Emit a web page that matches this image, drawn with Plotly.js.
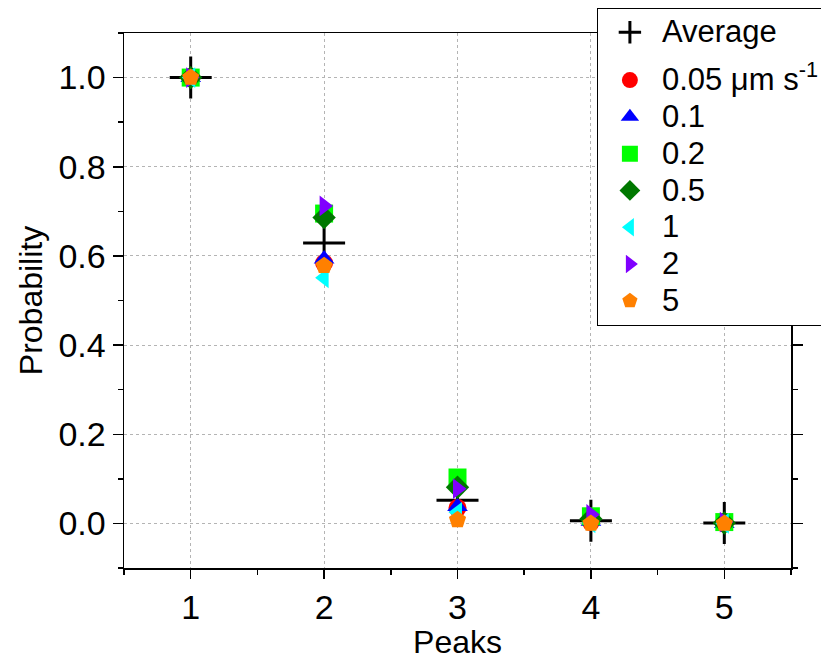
<!DOCTYPE html>
<html>
<head>
<meta charset="utf-8">
<script src="https://cdn.plot.ly/plotly-3.0.1.min.js"></script>
<style>html,body{margin:0;padding:0;background:#fff;}#chart{width:821px;height:660px;}</style>
</head>
<body>
<div id="chart"></div>
<script>
// Data
const peaks = [1, 2, 3, 4, 5];
const average = [1.0, 0.629, 0.052, 0.006, 0.001];
const v005 = [1.0, 0.584, 0.035, 0.003, 0.0];
const v01  = [1.0, 0.593, 0.038, 0.005, 0.0];
const v02  = [1.0, 0.695, 0.103, 0.016, 0.003];
const v05  = [1.0, 0.686, 0.081, 0.010, 0.001];
const v1   = [1.0, 0.551, 0.025, 0.001, 0.0];
const v2   = [1.0, 0.712, 0.078, 0.020, 0.003];
const v5   = [1.0, 0.578, 0.008, 0.0, 0.0];
const averageName = 'Average';
const seriesNames = ['0.05 \u03bcm s<sup>-1</sup>', '0.1', '0.2', '0.5', '1', '2', '5'];
const seriesValues = [v005, v01, v02, v05, v1, v2, v5];
const yTickVals = [0, 0.2, 0.4, 0.6, 0.8, 1.0];
const yTickText = ['0.0', '0.2', '0.4', '0.6', '0.8', '1.0'];
const symbols = ['circle', 'triangle-up', 'square', 'diamond', 'triangle-left', 'triangle-right', 'pentagon'];
const colors = ['#ff0000', '#0000ff', '#00ff00', '#007800', '#00ffff', '#8000ff', '#ff8000'];

// legend labels drawn a little larger than the legend's row spacing font
const big = s => '<span style="font-size:31px">' + s + '</span>';

const traces = [{
  x: peaks, y: average, name: big(averageName), type: 'scatter', mode: 'markers',
  legendgroup: 'avg',
  marker: {symbol: 'cross-thin-open', size: 30, color: '#000', line: {width: 3, color: '#000'}}
}];
seriesValues.forEach((vals, i) => {
  traces.push({
    x: peaks, y: vals, name: big(seriesNames[i]), type: 'scatter', mode: 'markers',
    legendgroup: 'speeds',
    marker: {symbol: symbols[i], size: 18, color: colors[i], line: {width: 0}}
  });
});

const font = 'Liberation Sans, Arial, sans-serif';
const layout = {
  width: 821, height: 660,
  margin: {l: 124, r: 30, t: 33, b: 92, autoexpand: false},
  paper_bgcolor: '#fff', plot_bgcolor: '#fff',
  font: {family: font, size: 26, color: '#000'},
  showlegend: true,
  legend: {
    x: 0.709, y: 1.047, xanchor: 'left', yanchor: 'top',
    bgcolor: '#fff', bordercolor: '#000', borderwidth: 1,
    font: {family: font, size: 26, color: '#000'},
    itemwidth: 54,
    traceorder: 'grouped', tracegroupgap: 11
  },
  xaxis: {
    range: [0.5, 5.5], tickmode: 'array', tickvals: peaks, ticktext: peaks.map(String),
    showline: true, linecolor: '#000', linewidth: 1.5, mirror: true,
    ticks: 'outside', ticklen: 9, tickwidth: 1.5, tickcolor: '#000',
    minor: {tickvals: [0.5, 1.5, 2.5, 3.5, 4.5, 5.5], ticks: 'outside', ticklen: 5, tickwidth: 1.5, tickcolor: '#000', showgrid: false},
    showgrid: true, gridcolor: '#b4b4b4', griddash: 'dot', gridwidth: 1,
    zeroline: false,
    tickfont: {family: font, size: 34, color: '#000'},
    title: {text: 'Peaks', font: {family: font, size: 32, color: '#000'}, standoff: 2}
  },
  yaxis: {
    range: [-0.1, 1.1], tickmode: 'array', tickvals: yTickVals, ticktext: yTickText,
    showline: true, linecolor: '#000', linewidth: 1.5, mirror: 'ticks',
    ticks: 'outside', ticklen: 10, tickwidth: 1.5, tickcolor: '#000',
    minor: {tickvals: [-0.1, 0.1, 0.3, 0.5, 0.7, 0.9, 1.1], ticks: 'outside', ticklen: 5, tickwidth: 1.5, tickcolor: '#000', showgrid: false},
    showgrid: true, gridcolor: '#b4b4b4', griddash: 'dot', gridwidth: 1,
    zeroline: false,
    tickfont: {family: font, size: 34, color: '#000'},
    title: {text: 'Probability', font: {family: font, size: 32, color: '#000'}, standoff: 6}
  }
};

Plotly.newPlot('chart', traces, layout, {displayModeBar: false, staticPlot: true});
</script>
</body>
</html>
